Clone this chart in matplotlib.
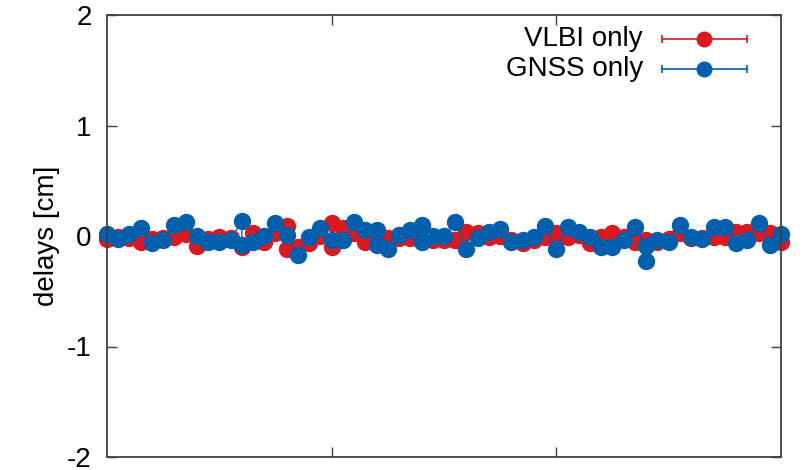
import numpy as np
import matplotlib.pyplot as plt
from matplotlib.lines import Line2D

# epochs in hours, delays in cm
vlbi_t = [0.0, 0.4, 0.8, 1.2, 1.6, 2.0, 2.4, 2.8, 3.2, 3.6, 4.0, 4.4, 4.8, 5.2, 5.6,
          6.0, 6.4, 6.4, 6.8, 7.2, 7.6, 8.0, 8.0, 8.4, 8.8, 9.2, 9.6, 10.0, 10.4, 10.8,
          11.2, 11.6, 12.0, 12.4, 12.8, 13.2, 13.6, 14.0, 14.4, 14.8, 15.2, 15.6, 16.0,
          16.4, 16.8, 17.2, 17.6, 18.0, 18.4, 18.8, 19.2, 19.6, 20.0, 20.4, 20.8, 21.2,
          21.6, 22.0, 22.4, 22.8, 23.2, 23.6, 24.0]
vlbi_d = [-0.03, -0.01, -0.02, -0.05, -0.03, -0.02, -0.01, 0.02, -0.09, -0.03, -0.01,
          -0.02, -0.10, 0.03, -0.05, 0.03, 0.09, -0.12, -0.10, -0.06, 0.00, 0.12, -0.10,
          0.07, 0.03, -0.05, -0.02, -0.02, -0.02, -0.02, -0.03, -0.04, -0.04, -0.04,
          0.04, 0.03, -0.01, 0.00, -0.04, -0.06, -0.04, -0.01, 0.03, -0.01, 0.01, -0.06,
          -0.01, 0.03, -0.01, -0.05, -0.04, -0.05, -0.03, 0.03, -0.02, -0.02, -0.01,
          -0.01, 0.04, 0.04, 0.03, 0.03, -0.05]

gnss_t = [0.0, 0.4, 0.8, 1.2, 1.6, 2.0, 2.4, 2.8, 3.2, 3.6, 4.0, 4.4, 4.8, 4.8, 5.2,
          5.6, 6.0, 6.4, 6.8, 7.2, 7.6, 8.0, 8.4, 8.8, 9.2, 9.6, 9.6, 10.0, 10.4, 10.8,
          11.2, 11.2, 11.6, 12.0, 12.4, 12.8, 13.2, 13.6, 14.0, 14.4, 14.8, 15.2, 15.6,
          16.0, 16.4, 16.8, 17.2, 17.6, 18.0, 18.4, 18.8, 19.2, 19.2, 19.6, 20.0, 20.4,
          20.8, 21.2, 21.6, 22.0, 22.4, 22.8, 23.2, 23.6, 24.0]
gnss_d = [0.02, -0.03, 0.02, 0.07, -0.06, -0.04, 0.10, 0.13, 0.00, -0.05, -0.05, -0.04,
          0.14, -0.08, -0.05, 0.00, 0.12, 0.01, -0.17, -0.01, 0.07, -0.04, -0.04, 0.13,
          0.05, 0.05, -0.08, -0.12, 0.01, 0.05, 0.10, -0.05, 0.00, 0.00, 0.13, -0.12,
          -0.02, 0.04, 0.06, -0.05, -0.04, -0.01, 0.09, -0.12, 0.08, 0.04, -0.01, -0.10,
          -0.10, -0.04, 0.08, -0.09, -0.23, -0.04, -0.05, 0.10, -0.01, -0.03, 0.08, 0.08,
          -0.06, -0.04, 0.12, -0.08, 0.02]

labels = ['VLBI only', 'GNSS only']
colors = ['#dd181f', '#0060ad']

plt.rcParams['font.family'] = ['Liberation Sans', 'DejaVu Sans']
plt.rcParams['axes.unicode_minus'] = False

fig = plt.figure(figsize=(8.02, 4.70), dpi=100)
ax = fig.add_axes([107/802, 1 - 457/470, 674/802, 442/470])

for t, d, c in [(vlbi_t, vlbi_d, colors[0]), (gnss_t, gnss_d, colors[1])]:
    ax.plot(t, d, '-o', color=c, lw=1.0, ms=11.5, mec=c, clip_on=False, zorder=2)

ax.set_xlim(0, 24)
ax.set_ylim(-2, 2)
ax.set_xticks([8, 16])
ax.set_xticklabels([])
ax.set_yticks([-2, -1, 0, 1, 2])
ax.tick_params(direction='in', length=7, width=1, color='#404040',
               top=True, right=True, labelsize=20, pad=11)
for s in ax.spines.values():
    s.set_color('#404040')
    s.set_linewidth(1.3)
ax.set_ylabel('delays [cm]', fontsize=20, labelpad=5)

# legend drawn by hand: text, line with end caps, marker in the middle
for i, (lab, c) in enumerate(zip(labels, colors)):
    yy = [0.9457, 0.8778][i]
    ax.text(0.795, yy, lab, transform=ax.transAxes, ha='right', va='center', fontsize=20)
    ax.add_line(Line2D([0.8234, 0.9496], [yy, yy], transform=ax.transAxes, color=c, lw=1.2))
    ax.add_line(Line2D([0.8234, 0.9496], [yy, yy], transform=ax.transAxes, color=c,
                       lw=0, marker='|', ms=6, mew=1.2))
    ax.add_line(Line2D([0.8858], [yy], transform=ax.transAxes, color=c, lw=0,
                       marker='o', ms=10.5))

fig.savefig('out.png', dpi=100)
